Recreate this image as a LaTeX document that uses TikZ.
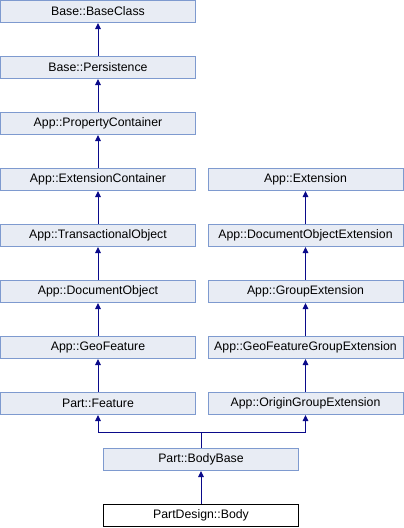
\documentclass[tikz,border=0pt]{standalone}
\usepackage{fontspec}
\setmainfont{Liberation Sans}
\usetikzlibrary{arrows.meta}
\definecolor{boxfill}{HTML}{E8ECF4}
\definecolor{boxline}{HTML}{7E9ACF}
\definecolor{arr}{HTML}{0A0A8A}
\begin{document}
\begin{tikzpicture}[x=1pt,y=-1pt,
  cls/.style={draw=boxline,fill=boxfill,line width=1pt,minimum width=195pt,minimum height=22pt,inner sep=0pt,font=\fontsize{12.3}{14}\selectfont},
  cur/.style={cls,draw=black,fill=white},
  inh/.style={draw=arr,line width=1pt,-{Triangle[length=6pt,width=5.5pt]}}]
\useasboundingbox (0,0) rectangle (404,528);
\foreach \i/\n/\t in {0/bc/Base::BaseClass,1/pe/Base::Persistence,2/pc/App::PropertyContainer,3/ec/App::ExtensionContainer,4/to/App::TransactionalObject,5/do/App::DocumentObject,6/gf/App::GeoFeature,7/pf/Part::Feature}
  \node[cls] (\n) at (98,{56*\i+11.5}) {\t};
\foreach \i/\n/\t in {3/ex/App::Extension,4/doe/App::DocumentObjectExtension,5/ge/App::GroupExtension,6/gfge/App::GeoFeatureGroupExtension,7/oge/App::OriginGroupExtension}
  \node[cls] (\n) at (305.5,{56*\i+11.5}) {\t};
\node[cls] (bb) at (201,{56*8+11.5}) {Part::BodyBase};
\node[cur] (bd) at (201,{56*9+11.5}) {PartDesign::Body};
\foreach \a/\b in {pe/bc,pc/pe,ec/pc,to/ec,do/to,gf/do,pf/gf,doe/ex,ge/doe,gfge/ge,oge/gfge,bd/bb}
  \draw[inh] (\a.north) -- (\b.south);
\coordinate (j) at (201,432);
\draw[inh] (bb.north) -- (j) -| (pf.south);
\draw[inh] (j) -| (oge.south);
\end{tikzpicture}
\end{document}
